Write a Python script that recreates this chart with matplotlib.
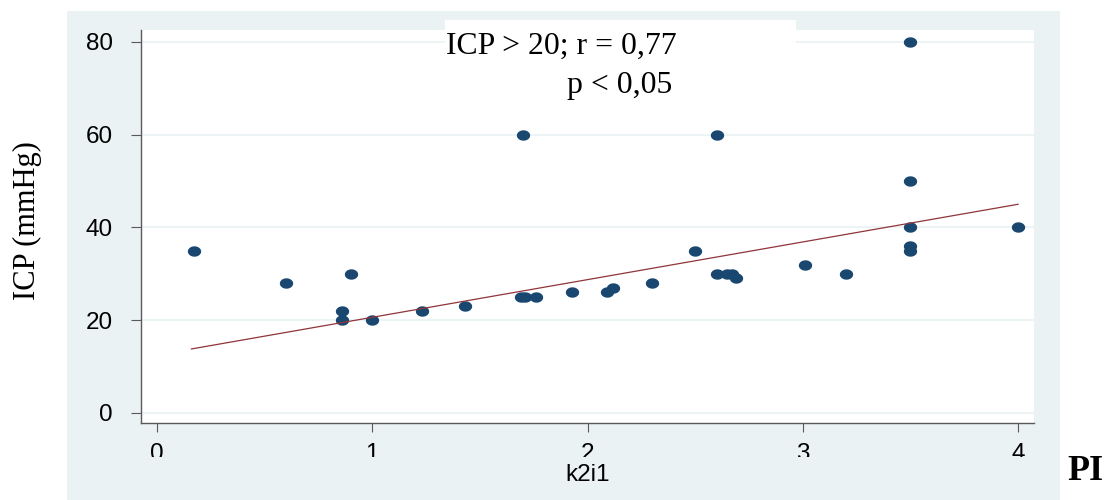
import numpy as np
import matplotlib
matplotlib.use("Agg")
import matplotlib.pyplot as plt
from matplotlib.path import Path
from matplotlib.patches import Rectangle

# ---- data ----
pi_values = [0.17, 0.60, 0.86, 0.86, 0.90, 1.00, 1.23, 1.43, 1.69, 1.71, 1.76, 1.70,
             1.93, 2.09, 2.12, 2.30, 2.50, 2.60, 2.60, 2.65, 2.67, 2.69, 3.01, 3.20,
             3.50, 3.50, 3.50, 3.50, 3.50, 4.00]
icp_values = [35, 28, 22, 20, 30, 20, 22, 23, 25, 25, 25, 60,
              26, 26, 27, 28, 35, 30, 60, 30, 30, 29, 32, 30,
              80, 50, 40, 36, 35, 40]
fit_intercept = 12.5
fit_slope = 8.12
x_ticks = [0, 1, 2, 3, 4]
y_ticks = [0, 20, 40, 60, 80]
annot_line1 = "ICP > 20; r = 0,77"
annot_line2 = "p < 0,05"
x_label = "k2i1"
y_label = "ICP (mmHg)"
corner_label = "PI"

W, H = 1114, 500
BG = "#eaf2f3"
NAVY = "#1a476f"
MAROON = "#90353b"

fig = plt.figure(figsize=(W / 100, H / 100), dpi=100)
fig.patch.set_facecolor("white")

def fx(px):
    return px / W

def fy(py):
    return 1 - py / H

# light graph-region background
fig.add_artist(Rectangle((fx(67), fy(500)), fx(1060) - fx(67), fy(11) - fy(500),
                         transform=fig.transFigure, facecolor=BG, edgecolor="none", zorder=-5))

ax = fig.add_axes([fx(141), fy(423), fx(1034) - fx(141), fy(30) - fy(423)])
ax.set_facecolor("white")
ax.set_xlim(-0.0743, 4.074)
ax.set_ylim(-2.16, 82.54)

for s in ["top", "right"]:
    ax.spines[s].set_visible(False)
for s in ["left", "bottom"]:
    ax.spines[s].set_color("#5a5a5a")
    ax.spines[s].set_linewidth(1.0)

ax.set_yticks(y_ticks)
ax.set_xticks(x_ticks)
ax.set_yticklabels([str(v) for v in y_ticks])
ax.set_xticklabels([str(v) for v in x_ticks])
ax.tick_params(axis="y", length=7.2, width=0.8, color="#5a5a5a", pad=13,
               labelsize=17.5, labelcolor="black")
ax.tick_params(axis="x", length=6.5, width=0.8, color="#5a5a5a", pad=8,
               labelsize=17.5, labelcolor="black")
for lab in ax.get_xticklabels() + ax.get_yticklabels():
    lab.set_fontfamily("Liberation Sans")

ax.yaxis.grid(True, color=BG, linewidth=1.2)
ax.set_axisbelow(True)

# ellipse marker
t = np.linspace(0, 2 * np.pi, 40)
ell = Path(np.column_stack([np.cos(t), 0.78 * np.sin(t)]), closed=True)

ax.plot(pi_values, icp_values, linestyle="none", marker=ell, markersize=9.6,
        color=NAVY, markeredgewidth=0, zorder=3)

xf = np.array([min(pi_values) - 0.01, max(pi_values)])
ax.plot(xf, fit_intercept + fit_slope * xf, color=MAROON, linewidth=0.9, zorder=4)

ax.set_xlabel(x_label, fontfamily="Liberation Sans", fontsize=17.5, labelpad=-1)

# annotation white box
fig.add_artist(Rectangle((fx(445), fy(110)), fx(796) - fx(445), fy(20) - fy(110),
                         transform=fig.transFigure, facecolor="white", edgecolor="none", zorder=5))
fig.text(fx(446), fy(54), annot_line1, fontfamily="Liberation Serif", fontsize=22.9,
         va="baseline", ha="left", zorder=6)
fig.text(fx(567), fy(93), annot_line2, fontfamily="Liberation Serif", fontsize=22.9,
         va="baseline", ha="left", zorder=6)

# clip bottom of x tick labels
fig.add_artist(Rectangle((fx(141), fy(462)), fx(1034) - fx(141), fy(457) - fy(462),
                         transform=fig.transFigure, facecolor=BG, edgecolor="none", zorder=5))

fig.text(fx(27), fy(221), y_label, fontfamily="Liberation Serif", fontsize=22,
         rotation=90, ha="center", va="center")
fig.text(fx(1067), fy(480), corner_label, fontfamily="Liberation Serif", fontsize=26,
         fontweight="bold", ha="left", va="baseline")

fig.savefig("out.png", dpi=100)
